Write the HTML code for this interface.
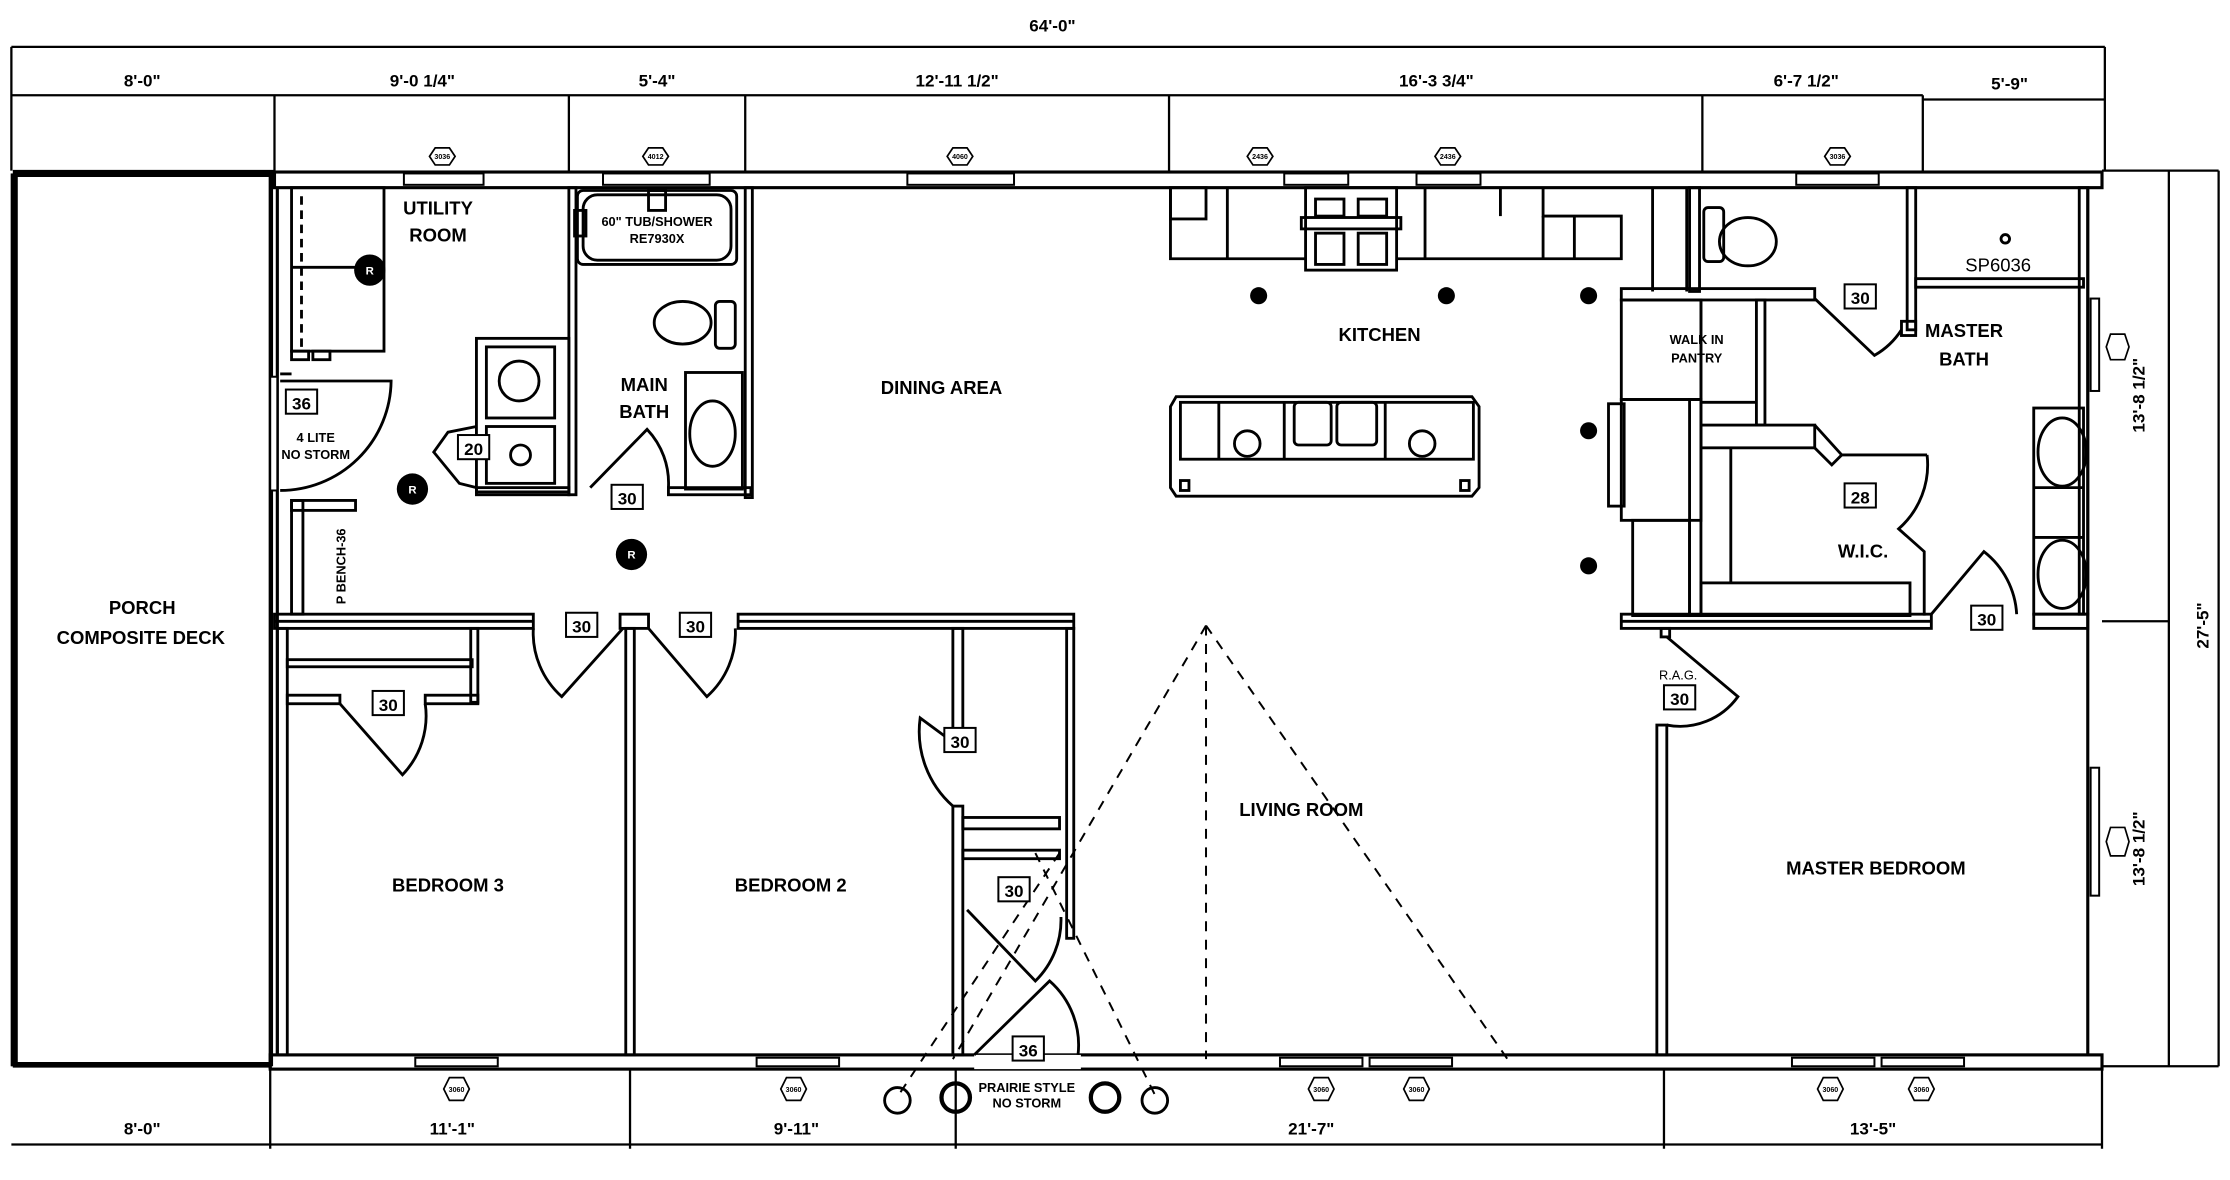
<!DOCTYPE html>
<html><head><meta charset="utf-8"><style>
html,body{margin:0;padding:0;background:#fff;}
svg{display:block;}
text{font-family:"Liberation Sans",sans-serif;font-weight:bold;fill:#000;}
</style></head><body>
<svg width="2230" height="1180" viewBox="0 0 1568 830" preserveAspectRatio="none" xmlns="http://www.w3.org/2000/svg">
<g fill="none" stroke="#000" stroke-width="1.6">
<!-- top dimension -->
<line x1="8" y1="33" x2="1480" y2="33"/>
<line x1="8" y1="67" x2="1352" y2="67"/>
<line x1="1352" y1="70" x2="1480" y2="70"/>
<line x1="8" y1="33" x2="8" y2="120"/>
<line x1="1480" y1="33" x2="1480" y2="120"/>
<line x1="193" y1="67" x2="193" y2="120"/>
<line x1="400" y1="67" x2="400" y2="120"/>
<line x1="524" y1="67" x2="524" y2="120"/>
<line x1="822" y1="67" x2="822" y2="120"/>
<line x1="1197" y1="67" x2="1197" y2="120"/>
<line x1="1352" y1="67" x2="1352" y2="120"/>
<!-- bottom dimension -->
<line x1="8" y1="805" x2="1478" y2="805"/>
<line x1="190" y1="752" x2="190" y2="808"/>
<line x1="443" y1="752" x2="443" y2="808"/>
<line x1="672" y1="752" x2="672" y2="808"/>
<line x1="1170" y1="752" x2="1170" y2="808"/>
<line x1="1478" y1="752" x2="1478" y2="808"/>
<!-- right dimension -->
<line x1="1478" y1="120" x2="1560" y2="120"/>
<line x1="1525" y1="120" x2="1525" y2="750"/>
<line x1="1560" y1="120" x2="1560" y2="750"/>
<line x1="1478" y1="750" x2="1560" y2="750"/>
<line x1="1478" y1="437" x2="1525" y2="437"/>
</g>
<!-- porch -->
<g fill="none" stroke="#000">
<rect x="9" y="123" width="182" height="626" stroke-width="2"/>
<line x1="9" y1="122" x2="193" y2="122" stroke-width="5"/>
<line x1="10" y1="122" x2="10" y2="750" stroke-width="5"/>
<line x1="9" y1="749" x2="190" y2="749" stroke-width="4"/>
</g>
<!-- exterior walls -->
<g fill="none" stroke="#000" stroke-width="2.2">
<rect x="193" y="121" width="1285" height="11"/>
<rect x="190" y="742" width="1288" height="10"/>
<line x1="190" y1="120" x2="190" y2="752"/>
<line x1="195" y1="132" x2="195" y2="742"/>
<line x1="1468" y1="132" x2="1468" y2="742"/>
</g>
<!-- windows top -->
<g fill="#fff" stroke="#000" stroke-width="1.4">
<rect x="284" y="122" width="56" height="8"/>
<rect x="424" y="122" width="75" height="8"/>
<rect x="638" y="122" width="75" height="8"/>
<rect x="903" y="122" width="45" height="8"/>
<rect x="996" y="122" width="45" height="8"/>
<rect x="1263" y="122" width="58" height="8"/>
<rect x="292" y="744" width="58" height="6"/>
<rect x="532" y="744" width="58" height="6"/>
<rect x="900" y="744" width="58" height="6"/>
<rect x="963" y="744" width="58" height="6"/>
<rect x="1260" y="744" width="58" height="6"/>
<rect x="1323" y="744" width="58" height="6"/>
<rect x="1470" y="210" width="6" height="65"/>
<rect x="1470" y="540" width="6" height="90"/>
<rect x="190" y="265" width="5" height="80"/>
<rect x="685" y="742" width="75" height="10" stroke="none"/>
</g>
<!-- window tags -->
<g fill="#fff" stroke="#000" stroke-width="1.2">
<polygon points="306,104 316,104 320,110 316,116 306,116 302,110"/>
<polygon points="456,104 466,104 470,110 466,116 456,116 452,110"/>
<polygon points="670,104 680,104 684,110 680,116 670,116 666,110"/>
<polygon points="881,104 891,104 895,110 891,116 881,116 877,110"/>
<polygon points="1013,104 1023,104 1027,110 1023,116 1013,116 1009,110"/>
<polygon points="1287,104 1297,104 1301,110 1297,116 1287,116 1283,110"/>
<polygon points="316,758 326,758 330,766 326,774 316,774 312,766"/>
<polygon points="553,758 563,758 567,766 563,774 553,774 549,766"/>
<polygon points="924,758 934,758 938,766 934,774 924,774 920,766"/>
<polygon points="991,758 1001,758 1005,766 1001,774 991,774 987,766"/>
<polygon points="1282,758 1292,758 1296,766 1292,774 1282,774 1278,766"/>
<polygon points="1346,758 1356,758 1360,766 1356,774 1346,774 1342,766"/>
<polygon points="1484,235 1494,235 1497,244 1494,253 1484,253 1481,244"/>
<polygon points="1484,582 1494,582 1497,592 1494,602 1484,602 1481,592"/>
</g>
<g font-size="5" text-anchor="middle">
<text x="311" y="112">3036</text><text x="461" y="112">4012</text><text x="675" y="112">4060</text>
<text x="886" y="112">2436</text><text x="1018" y="112">2436</text><text x="1292" y="112">3036</text>
<text x="321" y="768">3060</text><text x="558" y="768">3060</text><text x="929" y="768">3060</text>
<text x="996" y="768">3060</text><text x="1287" y="768">3060</text><text x="1351" y="768">3060</text>
</g>
<!-- interior walls -->
<g fill="none" stroke="#000" stroke-width="2">
<!-- utility -->
<rect x="205" y="132" width="65" height="115"/>
<line x1="212" y1="138" x2="212" y2="247" stroke-dasharray="6,4"/>
<line x1="205" y1="188" x2="270" y2="188"/>
<rect x="205" y="247" width="12" height="6"/><rect x="220" y="247" width="12" height="6"/>
<line x1="197" y1="263" x2="205" y2="263"/>
<path d="M197,268 L275,268 A78,78 0 0 1 197,345"/>
<!-- bench -->
<rect x="205" y="352" width="8" height="80"/>
<rect x="205" y="352" width="45" height="7"/>
<!-- utility/bath walls -->
<rect x="400" y="132" width="5" height="216"/>
<rect x="524" y="132" width="5" height="218"/>
<rect x="335" y="238" width="65" height="108"/>
<rect x="342" y="244" width="48" height="50"/>
<circle cx="365" cy="268" r="14"/>
<rect x="342" y="300" width="48" height="40"/>
<circle cx="366" cy="320" r="7"/>
<path d="M335,300 L315,304 L305,318 L323,340 L335,343"/>
<rect x="335" y="343" width="65" height="5"/>
<rect x="470" y="343" width="58" height="5"/>
<path d="M415,343 L455,302 A55,55 0 0 1 470,343"/>
<!-- tub -->
<rect x="406" y="134" width="112" height="52" rx="4"/>
<rect x="410" y="137" width="104" height="46" rx="10"/>
<rect x="456" y="134" width="12" height="14"/>
<rect x="404" y="148" width="8" height="18"/>
<ellipse cx="480" cy="227" rx="20" ry="15"/>
<rect x="503" y="212" width="14" height="33" rx="3"/>
<rect x="482" y="262" width="40" height="82"/>
<ellipse cx="501" cy="305" rx="16" ry="23"/>
<!-- horizontal wall dividing bedrooms -->
<rect x="193" y="432" width="182" height="10"/>
<rect x="436" y="432" width="20" height="10"/>
<rect x="519" y="432" width="236" height="10"/>
<line x1="193" y1="437" x2="375" y2="437"/>
<line x1="519" y1="437" x2="755" y2="437"/>
<!-- bedroom doors -->
<path d="M375,442 A60,60 0 0 0 395,490 L438,442"/>
<path d="M517,442 A60,60 0 0 1 497,490 L456,442"/>
<!-- bedroom walls -->
<rect x="440" y="442" width="6" height="300"/>
<rect x="195" y="442" width="7" height="300"/>
<rect x="202" y="464" width="130" height="5"/>
<rect x="331" y="442" width="5" height="52"/>
<rect x="202" y="489" width="37" height="6"/><rect x="299" y="489" width="37" height="6"/>
<path d="M239,495 L283,545 A60,60 0 0 0 299,495"/>
<!-- bedroom2 closet -->
<rect x="670" y="442" width="7" height="80"/>
<rect x="670" y="567" width="7" height="175"/>
<rect x="750" y="442" width="5" height="218"/>
<path d="M670,522 L647,505 A70,70 0 0 0 670,567"/>
<rect x="677" y="575" width="68" height="8"/>
<rect x="677" y="598" width="68" height="6"/>
<path d="M680,640 L728,690 A60,60 0 0 0 746,645"/>
<path d="M685,742 L738,690 A60,60 0 0 1 758,742"/>
<!-- kitchen counters -->
<path d="M823,132 L823,182 L918,182 M982,182 L1140,182 L1140,152 L1085,152 L1085,132"/>
<rect x="823" y="132" width="25" height="22"/>
<line x1="863" y1="132" x2="863" y2="182"/>
<rect x="918" y="132" width="64" height="58"/>
<rect x="915" y="153" width="70" height="8"/>
<rect x="925" y="140" width="20" height="12"/><rect x="955" y="140" width="20" height="12"/>
<rect x="925" y="164" width="20" height="22"/><rect x="955" y="164" width="20" height="22"/>
<line x1="1002" y1="132" x2="1002" y2="182"/>
<line x1="1055" y1="132" x2="1055" y2="152"/>
<line x1="1085" y1="152" x2="1085" y2="182"/>
<line x1="1107" y1="152" x2="1107" y2="182"/>
<line x1="1162" y1="132" x2="1162" y2="205"/>
<line x1="1186" y1="132" x2="1186" y2="205"/>
<!-- island -->
<path d="M827,279 L1035,279 L1040,286 L1040,343 L1035,349 L827,349 L823,343 L823,286 Z"/>
<rect x="830" y="283" width="206" height="40"/>
<line x1="857" y1="283" x2="857" y2="323"/>
<line x1="903" y1="283" x2="903" y2="323"/>
<line x1="974" y1="283" x2="974" y2="323"/>
<rect x="910" y="283" width="26" height="30" rx="3"/><rect x="940" y="283" width="28" height="30" rx="3"/>
<circle cx="877" cy="312" r="9"/><circle cx="1000" cy="312" r="9"/>
<rect x="830" y="338" width="6" height="7"/><rect x="1027" y="338" width="6" height="7"/>
<!-- pantry / wic -->
<rect x="1140" y="203" width="136" height="8"/>
<rect x="1140" y="211" width="56" height="70"/>
<line x1="1196" y1="211" x2="1196" y2="283"/>
<rect x="1235" y="211" width="6" height="88"/>
<line x1="1196" y1="283" x2="1235" y2="283"/>
<rect x="1140" y="281" width="56" height="85"/>
<rect x="1131" y="284" width="11" height="72"/>
<rect x="1188" y="281" width="8" height="152"/>
<rect x="1196" y="299" width="80" height="16"/>
<path d="M1276,299 L1295,320 L1288,327 L1276,315"/>
<line x1="1217" y1="315" x2="1217" y2="410"/>
<rect x="1196" y="410" width="147" height="23"/>
<line x1="1295" y1="320" x2="1355" y2="320"/>
<path d="M1355,320 A60,60 0 0 1 1335,372 L1353,388 L1353,433"/>
<rect x="1148" y="366" width="40" height="67"/>
<!-- master bath -->
<rect x="1188" y="132" width="7" height="73"/>
<rect x="1341" y="132" width="6" height="100"/>
<rect x="1337" y="226" width="10" height="10"/>
<path d="M1276,210 L1318,250 A55,55 0 0 0 1337,232"/>
<rect x="1347" y="196" width="118" height="6"/>
<rect x="1462" y="132" width="6" height="300"/>
<rect x="1198" y="146" width="14" height="38" rx="3"/>
<ellipse cx="1229" cy="170" rx="20" ry="17"/>
<rect x="1430" y="287" width="35" height="145"/>
<ellipse cx="1450" cy="318" rx="17" ry="24"/>
<ellipse cx="1450" cy="404" rx="17" ry="24"/>
<line x1="1430" y1="343" x2="1465" y2="343"/><line x1="1430" y1="378" x2="1465" y2="378"/>
<circle cx="1410" cy="168" r="3"/>
<!-- master bedroom wall -->
<rect x="1140" y="432" width="218" height="10"/>
<line x1="1140" y1="437" x2="1358" y2="437"/>
<rect x="1430" y="432" width="38" height="10"/>
<path d="M1358,432 L1395,388 A60,60 0 0 1 1418,432"/>
<rect x="1165" y="510" width="7" height="232"/>
<rect x="1168" y="442" width="6" height="6"/>
<path d="M1172,448 L1222,490 A50,50 0 0 1 1172,510"/>
<!-- living room dashed -->
<g stroke-width="1.4" stroke-dasharray="7,6">
<line x1="848" y1="440" x2="848" y2="745"/>
<line x1="848" y1="440" x2="1060" y2="745"/>
<line x1="848" y1="440" x2="670" y2="745"/>
<line x1="728" y1="600" x2="812" y2="770"/>
<line x1="745" y1="600" x2="632" y2="770"/>
</g>
<circle cx="631" cy="774" r="9"/><circle cx="812" cy="774" r="9"/>
<circle cx="672" cy="772" r="10" stroke-width="3"/><circle cx="777" cy="772" r="10" stroke-width="3"/>
</g>
<!-- receptacles / ceiling lights -->
<g fill="#000">
<circle cx="260" cy="190" r="11"/><circle cx="290" cy="344" r="11"/><circle cx="444" cy="390" r="11"/>
<circle cx="885" cy="208" r="6"/><circle cx="1017" cy="208" r="6"/><circle cx="1117" cy="208" r="6"/>
<circle cx="1117" cy="303" r="6"/><circle cx="1117" cy="398" r="6"/>
</g>
<g fill="#fff" font-size="8" text-anchor="middle">
<text x="260" y="193" style="fill:#fff">R</text><text x="290" y="347" style="fill:#fff">R</text><text x="444" y="393" style="fill:#fff">R</text>
</g>
<!-- door tags -->
<g fill="#fff" stroke="#000" stroke-width="1.4">
<rect x="201" y="274" width="22" height="17"/><rect x="322" y="306" width="22" height="17"/>
<rect x="430" y="341" width="22" height="17"/><rect x="398" y="431" width="22" height="17"/>
<rect x="478" y="431" width="22" height="17"/><rect x="262" y="486" width="22" height="17"/>
<rect x="664" y="512" width="22" height="17"/><rect x="702" y="617" width="22" height="17"/>
<rect x="712" y="729" width="22" height="17"/><rect x="1297" y="200" width="22" height="17"/>
<rect x="1297" y="340" width="22" height="17"/><rect x="1386" y="426" width="22" height="17"/>
<rect x="1170" y="482" width="22" height="17"/>
</g>
<g font-size="12" text-anchor="middle" style="font-weight:normal">
<text x="212" y="288">36</text><text x="333" y="320">20</text><text x="441" y="355">30</text>
<text x="409" y="445">30</text><text x="489" y="445">30</text><text x="273" y="500">30</text>
<text x="675" y="526">30</text><text x="713" y="631">30</text><text x="723" y="743">36</text>
<text x="1308" y="214">30</text><text x="1308" y="354">28</text><text x="1397" y="440">30</text>
<text x="1181" y="496">30</text>
</g>
<!-- dimension labels -->
<g font-size="12" text-anchor="middle">
<text x="740" y="22">64'-0"</text>
<text x="100" y="61">8'-0"</text><text x="297" y="61">9'-0 1/4"</text><text x="462" y="61">5'-4"</text>
<text x="673" y="61">12'-11 1/2"</text><text x="1010" y="61">16'-3 3/4"</text><text x="1270" y="61">6'-7 1/2"</text>
<text x="1413" y="63">5'-9"</text>
<text x="100" y="798">8'-0"</text><text x="318" y="798">11'-1"</text><text x="560" y="798">9'-11"</text>
<text x="922" y="798">21'-7"</text><text x="1317" y="798">13'-5"</text>
<text transform="translate(1508,278) rotate(-90)">13'-8 1/2"</text>
<text transform="translate(1508,597) rotate(-90)">13'-8 1/2"</text>
<text transform="translate(1553,440) rotate(-90)">27'-5"</text>
</g>
<!-- room labels -->
<g font-size="13" text-anchor="middle">
<text x="100" y="432">PORCH</text><text x="99" y="453">COMPOSITE DECK</text>
<text x="308" y="151">UTILITY</text><text x="308" y="170">ROOM</text>
<text x="453" y="275">MAIN</text><text x="453" y="294">BATH</text>
<text x="662" y="277">DINING AREA</text>
<text x="970" y="240">KITCHEN</text>
<text x="1381" y="237">MASTER</text><text x="1381" y="257">BATH</text>
<text x="1310" y="392">W.I.C.</text>
<text x="915" y="574">LIVING ROOM</text>
<text x="315" y="627">BEDROOM 3</text><text x="556" y="627">BEDROOM 2</text>
<text x="1319" y="615">MASTER BEDROOM</text>
</g>
<g font-size="9" text-anchor="middle">
<text x="1193" y="242">WALK IN</text><text x="1193" y="255">PANTRY</text>
<text x="222" y="311">4 LITE</text><text x="222" y="323">NO STORM</text>
<text x="462" y="159">60" TUB/SHOWER</text><text x="462" y="171">RE7930X</text>
<text x="722" y="768">PRAIRIE STYLE</text><text x="722" y="779">NO STORM</text>
<text x="1180" y="478" style="font-weight:normal">R.A.G.</text>
</g>
<text x="1405" y="191" font-size="13" text-anchor="middle" style="font-weight:normal">SP6036</text>
<text transform="translate(243,425) rotate(-90)" font-size="9">P BENCH-36</text>
</svg>
</body></html>
